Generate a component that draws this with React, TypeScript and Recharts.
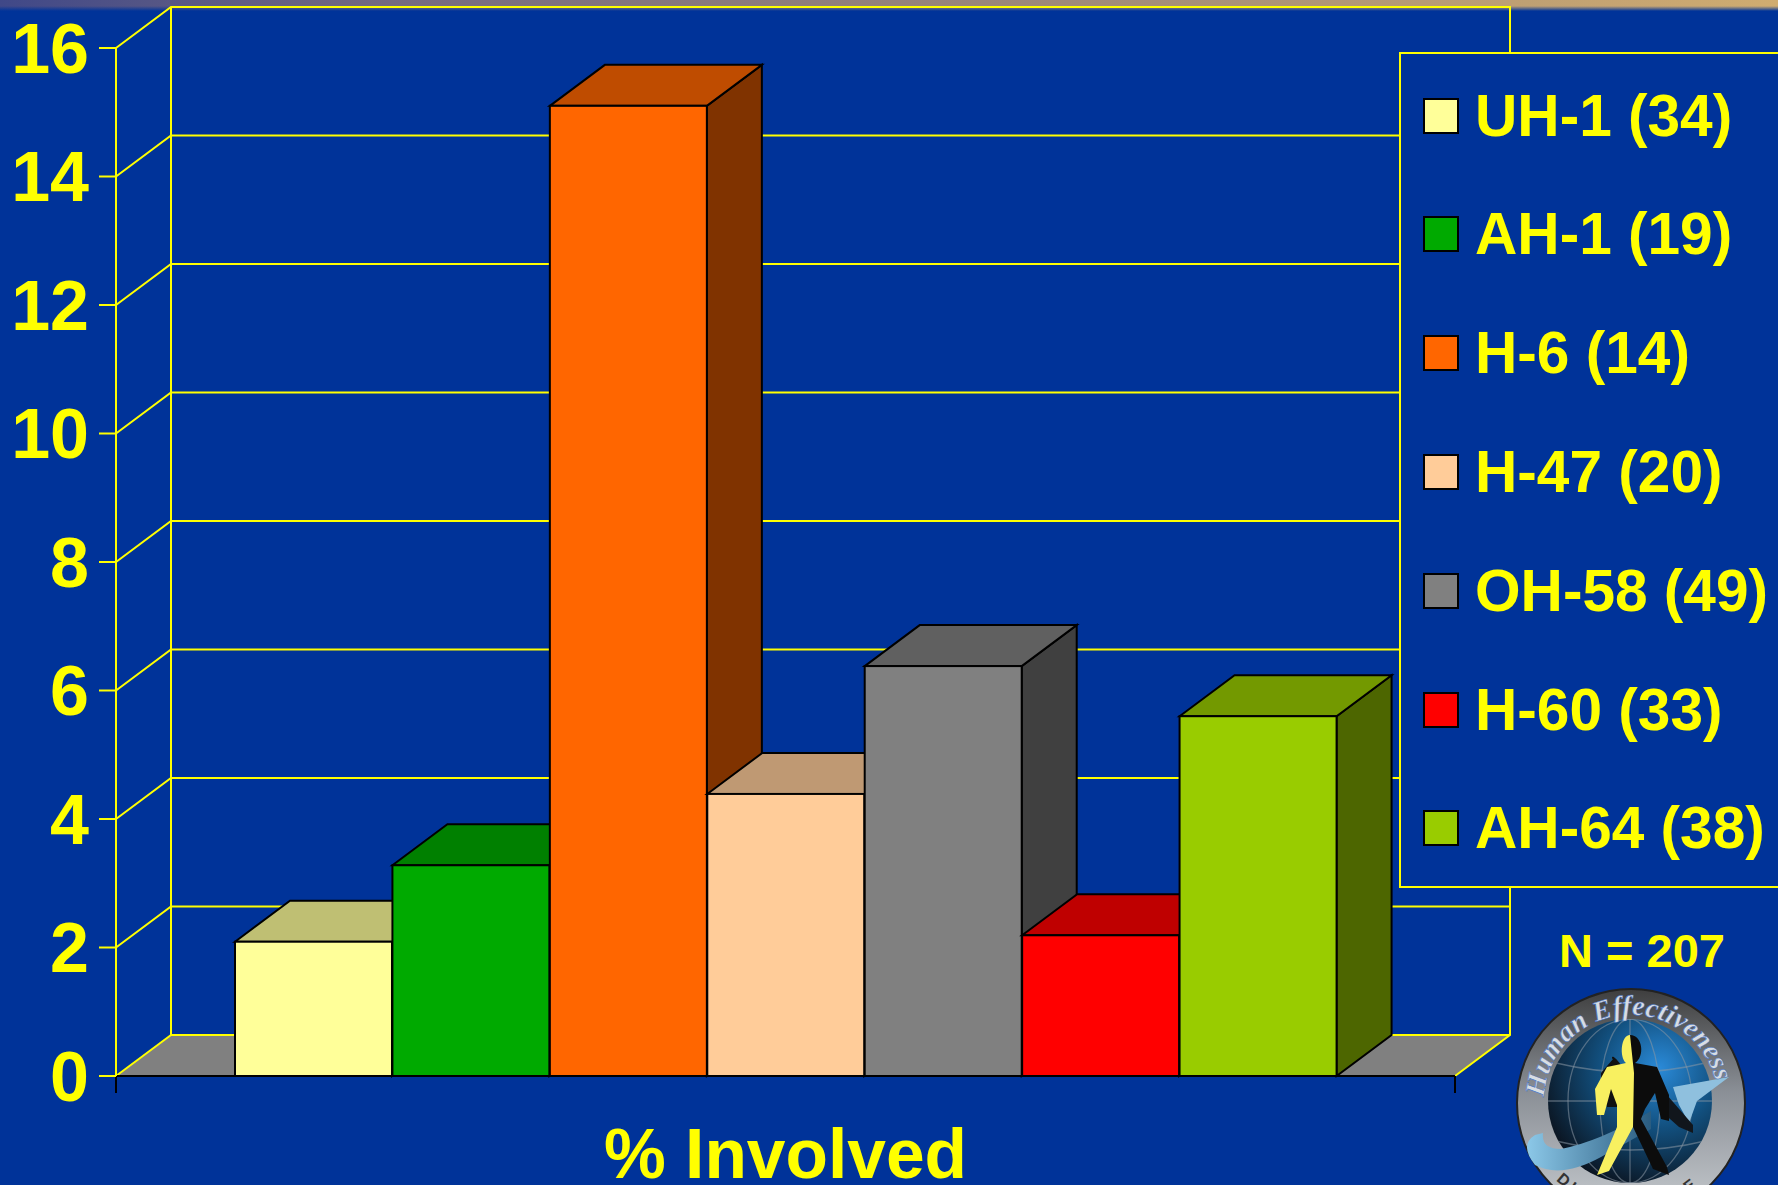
import React from 'react';
import { BarChart, Bar, XAxis, YAxis, ReferenceLine, ReferenceArea, Legend, Cell } from 'recharts';

const categories = ['UH-1 (34)', 'AH-1 (19)', 'H-6 (14)', 'H-47 (20)', 'OH-58 (49)', 'H-60 (33)', 'AH-64 (38)'];
const percentInvolved = [2.09, 3.28, 15.1, 4.39, 6.38, 2.19, 5.6];
const frontColors = ['#FFFF99', '#00AA00', '#FF6600', '#FFCC99', '#808080', '#FF0000', '#99CC00'];
const topColors = ['#BFBF73', '#008000', '#BF4C00', '#BF9973', '#606060', '#BF0000', '#739900'];
const sideColors = ['#808050', '#005500', '#803300', '#806650', '#404040', '#800000', '#4D6600'];
const yTicks = [0, 2, 4, 6, 8, 10, 12, 14, 16];
const axisTitle = '% Involved';
const sampleNote = 'N = 207';

const data = categories.map((name, i) => ({ name, value: percentInvolved[i] }));

const BG = '#003399';
const YELLOW = '#FFFF00';
const FONT = '"Liberation Sans", Arial, sans-serif';
const DX = 55;
const DY = 41;
const PAD_LEFT = 119;
const PAD_RIGHT = 118;

function Walls(props: any) {
  const { y, height } = props;
  const x = props.x - PAD_LEFT;
  const r = props.x + props.width + PAD_RIGHT;
  const b = y + height;
  return (
    <g fill="none" stroke={YELLOW} strokeWidth={2}>
      <polygon points={`${x},${b} ${x + DX},${b - DY} ${r + DX},${b - DY} ${r},${b}`} fill="#808080" stroke="none" />
      <path d={`M${x},${y} L${x + DX},${y - DY} L${r + DX},${y - DY} L${r + DX},${b - DY} L${r},${b}`} />
      <path d={`M${x + DX},${y - DY} L${x + DX},${b - DY} L${r + DX},${b - DY}`} />
      <path d={`M${x + DX},${b - DY} L${x},${b}`} />
    </g>
  );
}

function GridLine(props: any) {
  const { x1, x2, y1 } = props;
  return (
    <path
      d={`M${x1},${y1} L${x1 + DX},${y1 - DY} L${x2 + DX},${y1 - DY}`}
      fill="none"
      stroke={YELLOW}
      strokeWidth={2}
    />
  );
}

function AxisBase(props: any) {
  const { x1, x2, y1 } = props;
  return (
    <path d={`M${x1},${y1} L${x2},${y1} M${x1},${y1} V${y1 + 17} M${x2},${y1} V${y1 + 17}`} fill="none" stroke="#000" strokeWidth={2} />
  );
}

function Box3D(props: any) {
  const { x, y, width, height, index } = props;
  const r = x + width;
  const b = y + height;
  return (
    <g stroke="#000" strokeWidth={2} strokeLinejoin="miter">
      <polygon points={`${r},${y} ${r + DX},${y - DY} ${r + DX},${b - DY} ${r},${b}`} fill={sideColors[index]} />
      <polygon points={`${x},${y} ${x + DX},${y - DY} ${r + DX},${y - DY} ${r},${y}`} fill={topColors[index]} />
      <rect x={x} y={y} width={width} height={height} fill={frontColors[index]} />
    </g>
  );
}

function LegendBox() {
  return (
    <div
      style={{
        boxSizing: 'border-box',
        width: 400,
        height: 836,
        background: BG,
        border: `2px solid ${YELLOW}`,
        position: 'relative',
        fontFamily: FONT,
        fontWeight: 700,
        fontSize: 58.6,
        color: YELLOW,
      }}
    >
      {categories.map((c, i) => (
        <div key={c} style={{ position: 'absolute', left: 0, top: 61.5 + i * 118.8 - 50, height: 100, whiteSpace: 'nowrap', lineHeight: '100px' }}>
          <span
            style={{
              position: 'absolute',
              left: 22,
              top: 32,
              width: 36,
              height: 36,
              boxSizing: 'border-box',
              background: frontColors[i],
              border: '2px solid #000',
            }}
          />
          <span style={{ position: 'absolute', left: 74 }}>{c}</span>
        </div>
      ))}
    </div>
  );
}

function Logo() {
  const cx = 1631;
  const cy = 1103;
  return (
    <svg width={1778} height={1185} style={{ position: 'absolute', left: 0, top: 0, pointerEvents: 'none' }}>
      <defs>
        <linearGradient id="ring" x1="0" y1="0" x2="0" y2="1">
          <stop offset="0" stopColor="#3e3e3e" />
          <stop offset="0.45" stopColor="#8a8f96" />
          <stop offset="1" stopColor="#c8ccd0" />
        </linearGradient>
        <radialGradient id="globe" cx="0.68" cy="0.3" r="0.8">
          <stop offset="0" stopColor="#2a8ad8" />
          <stop offset="0.45" stopColor="#12507f" />
          <stop offset="1" stopColor="#0a0f18" />
        </radialGradient>
        <linearGradient id="swoosh" x1="0" y1="0" x2="1" y2="0">
          <stop offset="0" stopColor="#8cc8e8" />
          <stop offset="1" stopColor="#2a5c80" />
        </linearGradient>
        <clipPath id="globeClip">
          <circle cx={cx - 1} cy={cy - 2} r={82} />
        </clipPath>
        <path id="arcTop" d={`M${cx - 86},${cy + 12} A 87 87 0 1 1 ${cx + 86},${cy + 12}`} />
        <path id="arcBottom" d={`M${cx - 80},${cy + 72} A 106 106 0 0 0 ${cx + 80},${cy + 70}`} />
      </defs>
      <text x={1642} y={967} textAnchor="middle" fontFamily={FONT} fontWeight={700} fontSize={47} fill={YELLOW}>{sampleNote}</text>
      <circle cx={cx} cy={cy} r={114} fill="url(#ring)" stroke="#222" strokeWidth={2} />
      <circle cx={cx - 1} cy={cy - 2} r={82} fill="url(#globe)" />
      <g clipPath="url(#globeClip)" fill="none" stroke="#8a98a4" strokeOpacity={0.55} strokeWidth={1.3}>
        <ellipse cx={cx - 1} cy={cy - 2} rx={30} ry={82} />
        <ellipse cx={cx - 1} cy={cy - 2} rx={62} ry={82} />
        <path d={`M${cx - 1},${cy - 84} V${cy + 80}`} />
        <path d={`M${cx - 83},${cy - 2} H${cx + 81}`} />
        <path d={`M${cx - 75},${cy - 40} Q${cx},${cy - 22} ${cx + 74},${cy - 40}`} />
        <path d={`M${cx - 75},${cy + 38} Q${cx},${cy + 56} ${cx + 74},${cy + 38}`} />
      </g>
      <path d={`M${cx - 96},${cy + 32} Q${cx - 112},${cy + 42} ${cx - 96},${cy + 62} Q${cx - 70},${cy + 76} ${cx - 30},${cy + 54} L${cx + 20},${cy + 26} L${cx + 20},${cy + 8} Q${cx - 30},${cy + 38} ${cx - 70},${cy + 46} Q${cx - 90},${cy + 46} ${cx - 88},${cy + 30} Z`} fill="url(#swoosh)" />
      <path d={`M${cx + 42},${cy - 16} L${cx + 98},${cy - 26} L${cx + 66},${cy - 2} L${cx + 58},${cy + 20} L${cx + 48},${cy + 2} Z`} fill="#8fc0de" />
      <path d={`M${cx + 36},${cy - 8} L${cx + 62},${cy + 22} L${cx + 62},${cy + 30} L${cx + 48},${cy + 24} L${cx + 30},${cy + 8} Z`} fill="#11161c" />
      <path d={`M${cx - 10},${cy - 38} C${cx - 20},${cy - 52} ${cx - 20},${cy - 44} ${cx - 18},${cy - 44} L${cx - 30},${cy - 30} L${cx - 30},${cy - 16} L${cx - 24},${cy + 4} L${cx - 14},${cy + 4} Z`} fill="#111" />
      <path d={`M${cx - 1},${cy - 68} C${cx + 12},${cy - 68} ${cx + 14},${cy - 46} ${cx + 4},${cy - 40} L${cx + 26},${cy - 36} L${cx + 38},${cy - 8} L${cx + 38},${cy + 18} L${cx + 30},${cy + 16} L${cx + 24},${cy - 10} L${cx + 14},${cy + 6} L${cx + 10},${cy + 16} L${cx + 36},${cy + 64} L${cx + 38},${cy + 72} L${cx + 22},${cy + 66} L${cx + 2},${cy + 24} L${cx - 1},${cy + 20} Z`} fill="#0c0c0c" />
      <path d={`M${cx - 1},${cy - 68} C${cx - 10},${cy - 68} ${cx - 12},${cy - 46} ${cx - 5},${cy - 40} L${cx - 24},${cy - 36} L${cx - 36},${cy - 14} L${cx - 34},${cy + 12} L${cx - 27},${cy + 12} L${cx - 20},${cy - 14} L${cx - 14},${cy + 2} L${cx - 14},${cy + 24} L${cx - 34},${cy + 72} L${cx - 22},${cy + 68} L${cx + 2},${cy + 24} L${cx + 3},${cy - 30} Z`} fill="#F8F060" />
      <text fontFamily='"Liberation Serif", serif' fontStyle="italic" fontWeight={700} fontSize={28} fill="#d8dde2" stroke="#3a6cc0" strokeWidth={0.5}>
        <textPath href="#arcTop" startOffset="6%">Human Effectiveness</textPath>
      </text>
      <text fontFamily={FONT} fontWeight={700} fontSize={16} fill="#333" letterSpacing={4}>
        <textPath href="#arcBottom" startOffset="4%">DIRECTORATE</textPath>
      </text>
    </svg>
  );
}

export default function App() {
  return (
    <div style={{ position: 'fixed', left: 0, top: 0, width: 1778, height: 1185, background: BG, overflow: 'hidden' }}>
      <div
        style={{
          position: 'absolute',
          left: 0,
          top: 0,
          width: 1778,
          height: 11,
          background: `linear-gradient(to bottom, rgba(0,51,153,0) 55%, ${BG} 100%), linear-gradient(to right, #404888, #756a80 22%, #a08a78 60%, #d0ac70)`,
        }}
      />
      <div style={{ position: 'absolute', left: 0, top: 0 }}>
        <BarChart
          width={1778}
          height={1185}
          data={data}
          margin={{ top: 48, right: 323, bottom: 0, left: 0 }}
          barCategoryGap={0}
          barGap={0}
          style={{ background: 'transparent' }}
        >
          <YAxis
            type="number"
            domain={[0, 16]}
            ticks={yTicks}
            interval={0}
            width={116}
            axisLine={{ stroke: YELLOW, strokeWidth: 2 }}
            tickLine={{ stroke: YELLOW, strokeWidth: 2 }}
            tickSize={17}
            tickMargin={10}
            tick={{ fill: YELLOW, fontFamily: FONT, fontWeight: 700, fontSize: 70 }}
          />
          <XAxis
            dataKey="name"
            height={109}
            padding={{ left: PAD_LEFT, right: PAD_RIGHT }}
            tick={false}
            tickLine={false}
            axisLine={false}
            label={{
              value: axisTitle,
              position: 'insideBottom',
              offset: 7,
              fill: YELLOW,
              fontFamily: FONT,
              fontWeight: 700,
              fontSize: 69.5,
            }}
          />
          <ReferenceArea y1={0} y2={16} shape={Walls} zIndex={-60} />
          {yTicks.slice(1, -1).map((t) => (
            <ReferenceLine key={t} y={t} shape={GridLine} zIndex={-50} />
          ))}
          <ReferenceLine y={0} shape={AxisBase} zIndex={-40} />
          <Bar dataKey="value" isAnimationActive={false} shape={Box3D}>
            {data.map((d, i) => (
              <Cell key={d.name} fill={frontColors[i]} />
            ))}
          </Bar>
          <Legend
            layout="horizontal"
            verticalAlign="middle"
            align="center"
            content={LegendBox}
            wrapperStyle={{ position: 'absolute', left: 1399, top: 52, width: 400, height: 836, margin: 0 }}
          />
        </BarChart>
      </div>
      <Logo />
    </div>
  );
}
